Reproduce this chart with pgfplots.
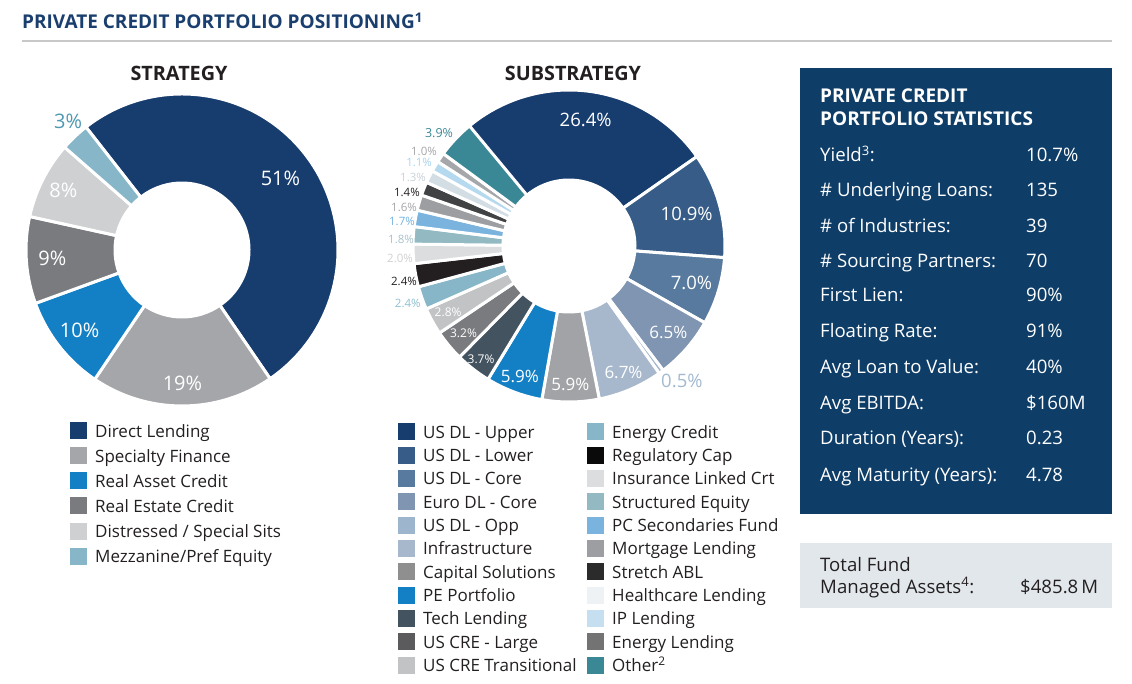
\documentclass[border=0pt]{standalone}
\usepackage{pgfplots}
\pgfplotsset{compat=1.18}
\usepackage{pgfplotstable}
\usepackage{fontspec}
\setmainfont{Open Sans}

% text colours
\definecolor{titleblue}{HTML}{1A3F6E}
\definecolor{txt}{HTML}{231F20}
\definecolor{panel}{HTML}{0E3D67}
\definecolor{panelgray}{HTML}{E2E7EC}
\definecolor{rule}{HTML}{C8C8C8}
% strategy
\definecolor{sDL}{HTML}{173C6E}
\definecolor{sSF}{HTML}{A5A6A9}
\definecolor{sRAC}{HTML}{1380C5}
\definecolor{sREC}{HTML}{7A7B7F}
\definecolor{sDSS}{HTML}{CFD0D2}
\definecolor{sMEZ}{HTML}{86B6C8}
\definecolor{lMEZ}{HTML}{4E98B2}
% substrategy slices
\definecolor{p1}{HTML}{173C6E}
\definecolor{p2}{HTML}{365C87}
\definecolor{p3}{HTML}{577A9E}
\definecolor{p4}{HTML}{8095B2}
\definecolor{p5}{HTML}{9DB6CD}
\definecolor{p6}{HTML}{A7B8CC}
\definecolor{p7}{HTML}{A2A3A6}
\definecolor{p8}{HTML}{1380C5}
\definecolor{p9}{HTML}{43535F}
\definecolor{p10}{HTML}{7A7B7F}
\definecolor{p11}{HTML}{C2C3C5}
\definecolor{p12}{HTML}{86B6C8}
\definecolor{p13}{HTML}{231F20}
\definecolor{p14}{HTML}{DCDDDE}
\definecolor{p15}{HTML}{93BAC3}
\definecolor{p16}{HTML}{7AB3DD}
\definecolor{p17}{HTML}{9D9EA1}
\definecolor{p18}{HTML}{414244}
\definecolor{p19}{HTML}{D3DEE4}
\definecolor{p20}{HTML}{B5DAF0}
\definecolor{p21}{HTML}{A6A7AA}
\definecolor{p22}{HTML}{3A8795}
% substrategy legend keys
\definecolor{g7}{HTML}{8F8F8F}
\definecolor{g10}{HTML}{5B5B5D}
\definecolor{g13}{HTML}{0A0A0A}
\definecolor{g18}{HTML}{2B2B2B}
\definecolor{g19}{HTML}{EEF2F5}
\definecolor{g20}{HTML}{C5DFF0}
\definecolor{g21}{HTML}{737373}
% substrategy outside label colours
\definecolor{l5}{HTML}{A3B9D0}
\definecolor{l12}{HTML}{8DBFD0}
\definecolor{l14}{HTML}{D0D0D2}
\definecolor{l15}{HTML}{A6C3CA}
\definecolor{l16}{HTML}{74B3E0}
\definecolor{l17}{HTML}{A5A6A9}
\definecolor{l19}{HTML}{C8D2D8}
\definecolor{l20}{HTML}{A8D3F0}

% out=1: label centre placed at angle la, radius lr; out=0: at mid-angle, radius lr
\pgfplotstableread[col sep=comma]{
label,value,fill,lr,la,lcol,lsize,out,lg
Direct Lending,51,sDL,122,0,white,20,0,sDL
Specialty Finance,19,sSF,133,0,white,20,0,sSF
Real Asset Credit,10,sRAC,130,0,white,20,0,sRAC
Real Estate Credit,9,sREC,130,0,white,20,0,sREC
Distressed / Special Sits,8,sDSS,133,0,white,20,0,sDSS
Mezzanine/Pref Equity,3,sMEZ,172,131.5,lMEZ,20,1,sMEZ
}\strategytable

\pgfplotstableread[col sep=comma]{
label,value,fill,lr,la,lcol,lsize,out,lg
US DL - Upper,26.4,p1,127,0,white,18.5,0,p1
US DL - Lower,10.9,p2,122,0,white,18.5,0,p2
US DL - Core,7.0,p3,128,0,white,18.5,0,p3
Euro DL - Core,6.5,p4,132,0,white,17,0,p4
US DL - Opp,0.5,p5,176,-50.1,l5,18.5,1,p5
Infrastructure,6.7,p6,138,0,white,17,0,p6
Capital Solutions,5.9,p7,138,0,white,17,0,g7
PE Portfolio,5.9,p8,139,0,white,17,0,p8
Tech Lending,3.7,p9,143,0,white,12,0,p9
US CRE - Large,3.2,p10,137,0,white,12,0,g10
US CRE Transitional,2.8,p11,138,0,white,12,0,p11
Energy Credit,2.4,p12,171,199.5,l12,11.5,1,p12
Regulatory Cap,2.4,p13,168.7,192.0,txt,11.5,1,g13
Insurance Linked Crt,2.0,p14,169.4,184.1,l14,11.5,1,p14
Structured Equity,1.8,p15,168.1,177.6,l15,11.5,1,p15
PC Secondaries Fund,1.7,p16,168.9,171.5,l16,11.5,1,p16
Mortgage Lending,1.6,p17,169.5,166.7,l17,11.5,1,p17
Stretch ABL,1.4,p18,170.8,161.6,txt,11.5,1,g18
Healthcare Lending,1.3,p19,170.2,156.4,l19,11.5,1,g19
IP Lending,1.1,p20,171.4,151.0,l20,11.5,1,g20
Energy Lending,1.0,p21,173.3,146.8,l17,11.5,1,g21
Other\textsuperscript{2},3.9,p22,172.2,139.0,p22,12.5,1,p22
}\substrattable

% #1 table, #2 start angle, #3 outer radius, #4 inner radius, #5 gap width
\newcommand\drawdonut[5]{%
  \pgfplotstablegetrowsof{#1}%
  \pgfmathtruncatemacro\lastrow{\pgfplotsretval-1}%
  \def\cum{0}%
  \pgfplotsforeachungrouped \i in {0,...,\lastrow}{%
    \pgfplotstablegetelem{\i}{value}\of{#1}\let\val\pgfplotsretval
    \pgfplotstablegetelem{\i}{fill}\of{#1}\let\fc\pgfplotsretval
    \pgfmathsetmacro\aA{#2-3.6*\cum}%
    \pgfmathsetmacro\aB{#2-3.6*(\cum+\val)}%
    \edef\cmd{%
      \noexpand\fill[\fc, draw=white, line width=#5pt, line join=miter]
        ([shift={(\aA:#3pt)}]axis cs:0,0) arc[start angle=\aA, end angle=\aB, radius=#3pt]
        -- ([shift={(\aB:#4pt)}]axis cs:0,0) arc[start angle=\aB, end angle=\aA, radius=#4pt] -- cycle;}%
    \cmd
    \pgfmathsetmacro\cum{\cum+\val}%
  }%
  \def\cum{0}%
  \pgfplotsforeachungrouped \i in {0,...,\lastrow}{%
    \pgfplotstablegetelem{\i}{value}\of{#1}\let\val\pgfplotsretval
    \pgfplotstablegetelem{\i}{lr}\of{#1}\let\lr\pgfplotsretval
    \pgfplotstablegetelem{\i}{la}\of{#1}\let\la\pgfplotsretval
    \pgfplotstablegetelem{\i}{lcol}\of{#1}\let\lc\pgfplotsretval
    \pgfplotstablegetelem{\i}{lsize}\of{#1}\let\ls\pgfplotsretval
    \pgfplotstablegetelem{\i}{out}\of{#1}\let\lo\pgfplotsretval
    \pgfmathsetmacro\aM{#2-3.6*(\cum+\val/2)}%
    \ifnum\lo=1 \let\ang\la \else \let\ang\aM \fi
    \edef\cmd{%
      \noexpand\node[text=\lc, inner sep=0pt, anchor=center,
        font=\noexpand\fontsize{\ls}{\ls}\noexpand\selectfont]
        at ([shift={(\ang:\lr pt)}]axis cs:0,0) {\val\noexpand\%};}%
    \cmd
    \pgfmathsetmacro\cum{\cum+\val}%
  }%
}

% legend column: #1 table, #2 first row, #3 last row, #4 x of key, #5 y of first centre, #6 pitch
\newcommand\legendcol[6]{%
  \pgfplotsforeachungrouped \i in {#2,...,#3}{%
    \pgfplotstablegetelem{\i}{label}\of{#1}\let\lab\pgfplotsretval
    \pgfplotstablegetelem{\i}{lg}\of{#1}\let\lgc\pgfplotsretval
    \pgfmathsetmacro\yc{#5-#6*(\i-#2)}%
    \fill[\lgc] (#4,\yc-8.5) rectangle (#4+17,\yc+8.5);
    \node[anchor=base west, inner sep=0pt, text=txt,
      font=\fontsize{17}{20}\selectfont] at (#4+25,\yc-6.3) {\lab};
  }%
}

\newcommand\statfont{\fontsize{18.6}{22}\selectfont}

\begin{document}
\begin{tikzpicture}[x=1pt,y=1pt]
\path[use as bounding box] (0,0) rectangle (1132,683);

% title and rule
\node[anchor=base west, inner sep=0pt, text=titleblue,
  font=\fontsize{19}{22}\selectfont\bfseries] at (22,654)
  {PRIVATE CREDIT PORTFOLIO POSITIONING\textsuperscript{1}};
\draw[rule, line width=2pt] (22,642) -- (1112,642);

% headers
\node[anchor=base, inner sep=0pt, text=txt, font=\fontsize{19.8}{22}\selectfont\bfseries]
  at (179,602) {STRATEGY};
\node[anchor=base, inner sep=0pt, text=txt, font=\fontsize{19.8}{22}\selectfont\bfseries]
  at (573,602) {SUBSTRATEGY};

% strategy donut
\begin{axis}[at={(182,433)}, anchor=origin, x=1pt, y=1pt,
  xmin=-200, xmax=200, ymin=-200, ymax=200, hide axis, clip=false]
  \drawdonut{\strategytable}{128}{156}{67}{3}
\end{axis}

% substrategy donut
\begin{axis}[at={(569,437)}, anchor=origin, x=1pt, y=1pt,
  xmin=-200, xmax=200, ymin=-200, ymax=200, hide axis, clip=false]
  \drawdonut{\substrattable}{130}{156}{66}{3}
\end{axis}

% legends
\legendcol{\strategytable}{0}{5}{70}{252}{25}
\legendcol{\substrattable}{0}{10}{398}{251}{23.3}
\legendcol{\substrattable}{11}{21}{587}{251}{23.3}

% statistics panel
\fill[panel] (800,169) rectangle (1112,615);
\node[anchor=base west, inner sep=0pt, text=white, font=\fontsize{19}{22}\selectfont\bfseries]
  at (820,580) {PRIVATE CREDIT};
\node[anchor=base west, inner sep=0pt, text=white, font=\fontsize{19}{22}\selectfont\bfseries]
  at (820,557) {PORTFOLIO STATISTICS};
\foreach \lab/\val/\yy in {
  Yield\textsuperscript{3}:/10.7\%/521,
  \# Underlying Loans:/135/486,
  \# of Industries:/39/450,
  \# Sourcing Partners:/70/415,
  First Lien:/90\%/381,
  Floating Rate:/91\%/345,
  Avg Loan to Value:/40\%/309,
  Avg EBITDA:/\$160M/273,
  Duration (Years):/0.23/238,
  Avg Maturity (Years):/4.78/201}{
  \node[anchor=base west, inner sep=0pt, text=white, font=\statfont] at (820,\yy) {\lab};
  \node[anchor=base west, inner sep=0pt, text=white, font=\statfont] at (1026,\yy) {\val};
}

% total fund box
\fill[panelgray] (800,75) rectangle (1112,140);
\node[anchor=base west, inner sep=0pt, text=txt, font=\statfont] at (820,112) {Total Fund};
\node[anchor=base west, inner sep=0pt, text=txt, font=\statfont] at (820,90)
  {Managed Assets\textsuperscript{4}:};
\node[anchor=base west, inner sep=0pt, text=txt, font=\statfont] at (1020,90) {\$485.8\,M};
\end{tikzpicture}
\end{document}
